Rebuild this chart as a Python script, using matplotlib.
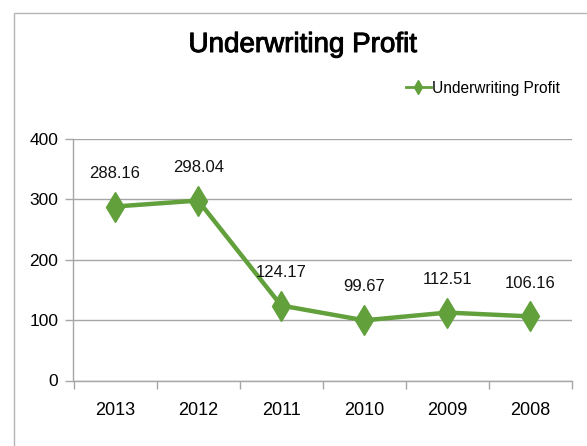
import matplotlib
matplotlib.use("Agg")
import matplotlib.pyplot as plt
import matplotlib.patheffects as pe
from matplotlib.patches import Rectangle

years = ["2013", "2012", "2011", "2010", "2009", "2008"]
profit = [288.16, 298.04, 124.17, 99.67, 112.51, 106.16]
yticks = [0, 100, 200, 300, 400]

GREEN = "#62a03c"
GRID = "#a6a6a6"
FONT = ["Liberation Sans", "DejaVu Sans"]

W, H, DPI = 587, 446, 100
fig = plt.figure(figsize=(W / DPI, H / DPI), dpi=DPI)

# outer chart frame (runs past the right and bottom edges)
fig.patches.append(Rectangle((13.5 / W, -0.05), 1.2, (H - 12.5) / H + 0.05,
                             transform=fig.transFigure, fill=False,
                             edgecolor="#b5b5b5", linewidth=1.0))

ax = fig.add_axes([73.5 / W, (H - 380.5) / H, (572 - 73.5) / W, (380.5 - 139) / H])

x = list(range(len(years)))
ax.plot(x, profit, color=GREEN, linewidth=3.2, marker="d", markersize=15,
        markerfacecolor=GREEN, markeredgecolor=GREEN, label="Underwriting Profit",
        zorder=3)

for xi, v in zip(x, profit):
    ax.annotate(f"{v:.2f}", (xi, v), xytext=(0, 24), textcoords="offset points",
                ha="center", va="center", fontsize=12, family=FONT, color="#111111")

ax.set_xlim(-0.5, len(years) - 0.5)
ax.set_ylim(0, 400)
ax.set_yticks(yticks)
ax.set_yticklabels([str(t) for t in yticks], family=FONT, fontsize=12.5)
ax.set_xticks(x)
ax.set_xticklabels(years, family=FONT, fontsize=13)
ax.set_xticks([i - 0.5 for i in range(len(years) + 1)], minor=True)

ax.yaxis.grid(True, color=GRID, linewidth=1.0)
ax.set_axisbelow(True)
for s in ["top", "right"]:
    ax.spines[s].set_visible(False)
for s in ["left", "bottom"]:
    ax.spines[s].set_color(GRID)
    ax.spines[s].set_linewidth(1.0)

ax.tick_params(axis="x", which="major", length=0, pad=15.5)
ax.tick_params(axis="x", which="minor", length=6, width=1.0, color=GRID, direction="out")
ax.tick_params(axis="y", length=6, width=1.0, color=GRID, pad=5)

# title, slightly heavier than the regular weight
fig.text(302.5 / W, 1 - 45 / H, "Underwriting Profit", ha="center", va="center",
         fontsize=20, family=FONT, color="#000000",
         path_effects=[pe.withStroke(linewidth=0.7, foreground="#000000")])

leg = fig.legend(loc="center left", bbox_to_anchor=(406 / W, 1 - 88 / H),
                 frameon=False, handlelength=1.6, handletextpad=0.05,
                 borderaxespad=0, borderpad=0,
                 prop={"family": FONT, "size": 11.2})
for h in leg.legend_handles:
    h.set_markersize(7)
    h.set_linewidth(2)

fig.savefig("out.png", dpi=DPI)
